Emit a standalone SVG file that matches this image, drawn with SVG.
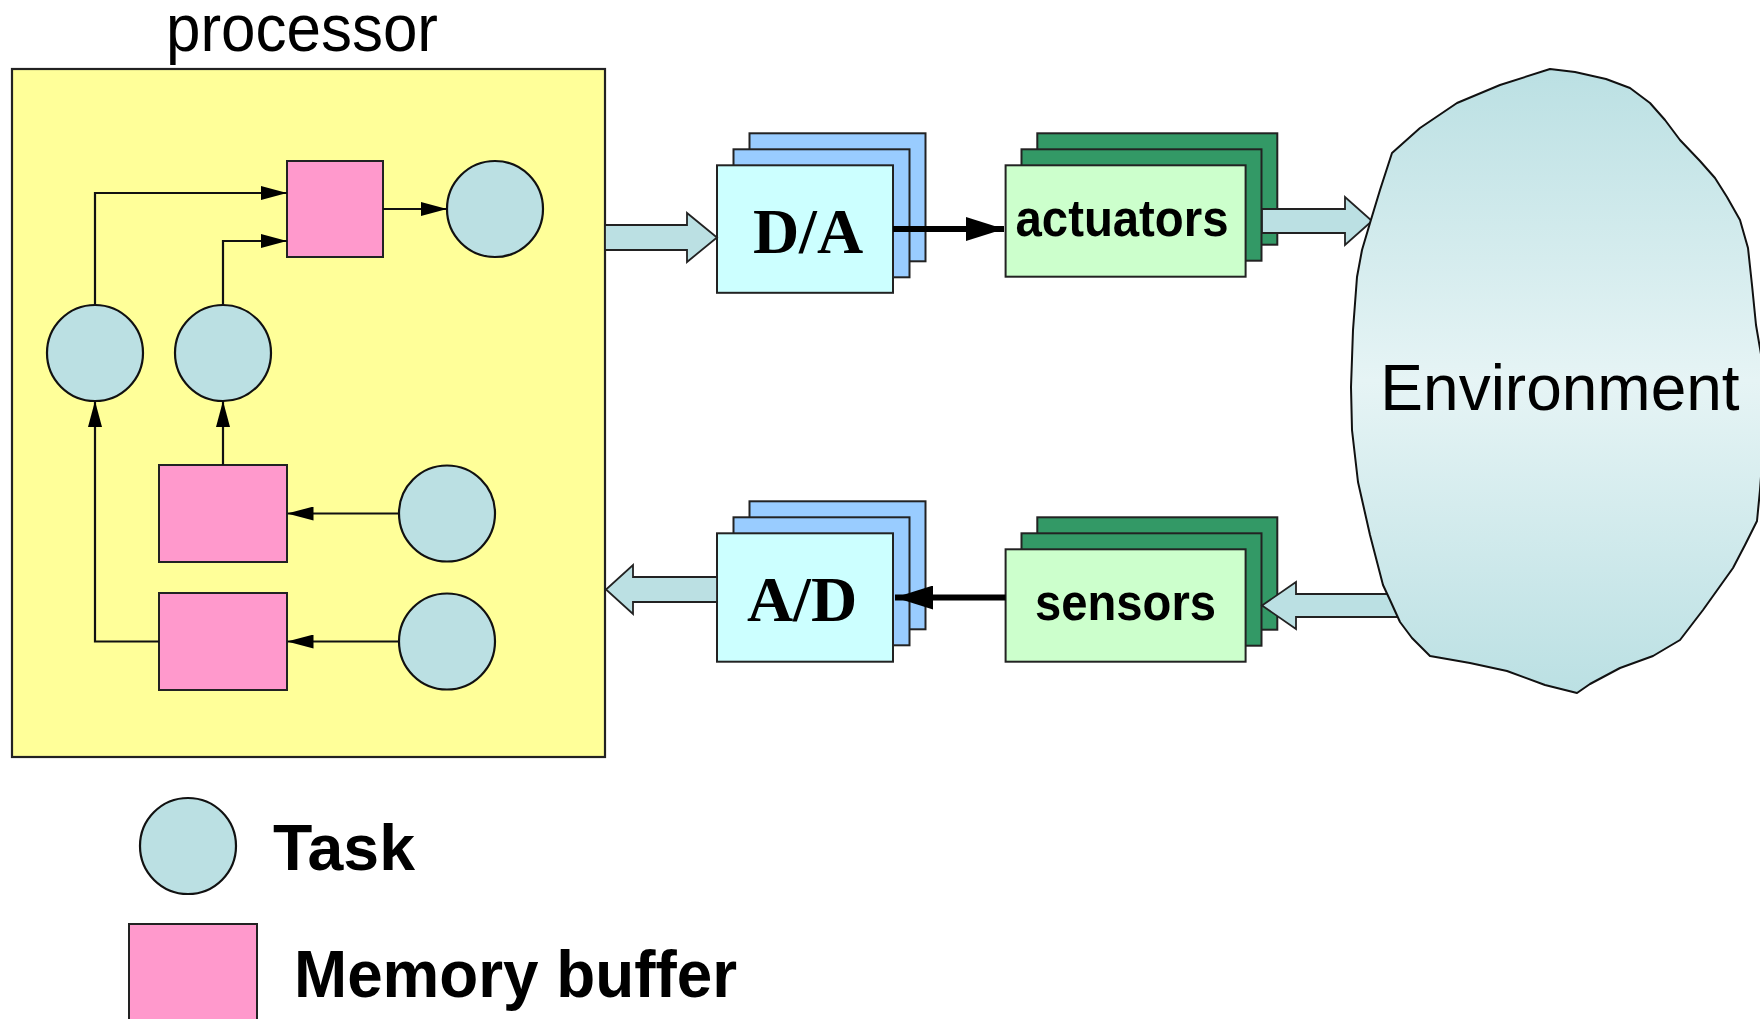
<svg xmlns="http://www.w3.org/2000/svg" width="1760" height="1019" viewBox="0 0 1760 1019">
  <style>
    .ln { fill: none; stroke: #111; stroke-width: 2.2; }
    .task { fill: #BBE0E3; stroke: #111; stroke-width: 2.2; }
    .buf { fill: #FF99CC; stroke: #222; stroke-width: 2; }
    .conv-front { fill: #CCFFFF; stroke: #222; stroke-width: 2; }
    .conv-back { fill: #99CCFF; stroke: #222; stroke-width: 2; }
    .dev-front { fill: #CCFFCC; stroke: #222; stroke-width: 2; }
    .dev-back { fill: #339966; stroke: #222; stroke-width: 2; }
    .flow { fill: #BBE0E3; stroke: #222; stroke-width: 1.8; stroke-linejoin: miter; }
    .sans { font-family: "Liberation Sans", Arial, sans-serif; fill: #000; }
    .serif { font-family: "Liberation Serif", "Times New Roman", serif; font-weight: bold; fill: #000; }
  </style>
  <defs>
    <marker id="head" markerUnits="userSpaceOnUse" viewBox="0 0 26 14" refX="26" refY="7" markerWidth="26" markerHeight="14" orient="auto">
      <path d="M0,0 L26,7 L0,14 Z" fill="#000"/>
    </marker>
    <marker id="bighead" markerUnits="userSpaceOnUse" viewBox="0 0 38 24" refX="38" refY="12" markerWidth="38" markerHeight="24" orient="auto">
      <path d="M0,0 L38,12 L0,24 Z" fill="#000"/>
    </marker>
    <linearGradient id="envFill" x1="0" y1="0" x2="0" y2="1">
      <stop offset="0" stop-color="#BBE0E3"/>
      <stop offset="0.5" stop-color="#E6F4F5"/>
      <stop offset="1" stop-color="#BBE0E3"/>
    </linearGradient>
  </defs>

  <rect width="1760" height="1019" fill="#fff"/>

  <!-- processor container -->
  <g id="processor">
    <rect x="12" y="69" width="593" height="688" fill="#FFFF99" stroke="#222" stroke-width="2.2"/>
    <text class="sans" x="302" y="51" font-size="66" text-anchor="middle" textLength="272" lengthAdjust="spacingAndGlyphs">processor</text>
  </g>

  <!-- tasks and buffers inside the processor -->
  <g id="buffer-top"><rect class="buf" x="287" y="161" width="96" height="96"/></g>
  <g id="task-out"><circle class="task" cx="495" cy="209" r="48"/></g>
  <g id="task-a"><circle class="task" cx="95" cy="353" r="48"/></g>
  <g id="task-b"><circle class="task" cx="223" cy="353" r="48"/></g>
  <g id="buffer-mid"><rect class="buf" x="159" y="465" width="128" height="97"/></g>
  <g id="buffer-low"><rect class="buf" x="159" y="593" width="128" height="97"/></g>
  <g id="task-in1"><circle class="task" cx="447" cy="513.5" r="48"/></g>
  <g id="task-in2"><circle class="task" cx="447" cy="641.5" r="48"/></g>

  <!-- D/A converter stack -->
  <g id="da">
    <rect class="conv-back" x="749.5" y="133.3" width="176" height="128"/>
    <rect class="conv-back" x="733.5" y="149.3" width="176" height="128"/>
    <rect class="conv-front" x="717" y="165.3" width="176" height="127.5"/>
    <text class="serif" x="808" y="253" font-size="64" text-anchor="middle">D/A</text>
  </g>

  <!-- A/D converter stack -->
  <g id="ad">
    <rect class="conv-back" x="749.5" y="501.3" width="176" height="128"/>
    <rect class="conv-back" x="733.5" y="517.3" width="176" height="128"/>
    <rect class="conv-front" x="717" y="533.3" width="176" height="128.4"/>
    <text class="serif" x="802" y="621" font-size="64" text-anchor="middle">A/D</text>
  </g>

  <!-- actuators stack -->
  <g id="actuators">
    <rect class="dev-back" x="1037.3" y="133.3" width="240" height="111.4"/>
    <rect class="dev-back" x="1021.5" y="149.3" width="240" height="111.4"/>
    <rect class="dev-front" x="1005.6" y="165.3" width="240" height="111.4"/>
    <text class="sans" x="1122" y="236" font-size="52" font-weight="bold" text-anchor="middle" textLength="213" lengthAdjust="spacingAndGlyphs">actuators</text>
  </g>

  <!-- sensors stack -->
  <g id="sensors">
    <rect class="dev-back" x="1037.3" y="517.3" width="240" height="112.4"/>
    <rect class="dev-back" x="1021.5" y="533.3" width="240" height="112.4"/>
    <rect class="dev-front" x="1005.6" y="549.3" width="240" height="112.4"/>
    <text class="sans" x="1125.5" y="620" font-size="52" font-weight="bold" text-anchor="middle" textLength="181" lengthAdjust="spacingAndGlyphs">sensors</text>
  </g>

  <!-- connectors -->
  <g id="connectors">
    <path class="ln" d="M95,305 V193 H287" marker-end="url(#head)"/>
    <path class="ln" d="M223,305 V241 H287" marker-end="url(#head)"/>
    <path class="ln" d="M383,209 H447" marker-end="url(#head)"/>
    <path class="ln" d="M223,465 V401" marker-end="url(#head)"/>
    <path class="ln" d="M399,513.5 H287.5" marker-end="url(#head)"/>
    <path class="ln" d="M399,641.5 H287.5" marker-end="url(#head)"/>
    <path class="ln" d="M159,641.5 H95 V401" marker-end="url(#head)"/>

    <line x1="893" y1="229" x2="1004" y2="229" stroke="#000" stroke-width="6" marker-end="url(#bighead)"/>
    <line x1="1005.6" y1="597.5" x2="895" y2="597.5" stroke="#000" stroke-width="6" marker-end="url(#bighead)"/>

    <polygon class="flow" points="605,225 687,225 687,213 717,237.5 687,262 687,250 605,250"/>
    <polygon class="flow" points="1262,209 1345,209 1345,197 1372,221 1345,245 1345,233 1262,233"/>
    <polygon class="flow" points="717,577 633,577 633,565 606,589.5 633,614 633,602 717,602"/>
    <polygon class="flow" points="1420,594 1296,594 1296,582 1262,605.5 1296,629 1296,617 1420,617"/>
  </g>

  <!-- environment cloud -->
  <g id="environment">
    <path fill="url(#envFill)" stroke="#111" stroke-width="2" stroke-linejoin="round"
      d="M1550,69 L1575,72 L1606,79 L1630,88 L1650,103 L1665,120 L1680,140 L1700,161 L1715,178 L1727,197 L1740,220 L1748,248 L1752,285 L1756,325 L1762,360 L1764,400 L1763,450 L1760,490 L1757,521 L1745,545 L1733,568 L1703,610 L1680,640 L1653,656 L1620,668 L1590,684 L1577,693 L1545,685 L1507,671 L1470,663 L1430,656 L1412,638 L1400,622 L1390,600 L1383,585 L1370,535 L1358,482 L1352,430 L1351,387 L1353,330 L1357,277 L1362,250 L1370,223 L1380,190 L1392,153 L1420,128 L1457,103 L1500,85 Z"/>
    <text class="sans" x="1560" y="410" font-size="64" text-anchor="middle">Environment</text>
  </g>

  <!-- legend -->
  <g id="legend-task">
    <circle class="task" cx="188" cy="846" r="48"/>
    <text class="sans" x="273" y="870" font-size="64" font-weight="bold" textLength="142" lengthAdjust="spacingAndGlyphs">Task</text>
  </g>
  <g id="legend-buffer">
    <rect class="buf" x="129" y="924" width="128" height="110"/>
    <text class="sans" x="294" y="997" font-size="66" font-weight="bold" textLength="443" lengthAdjust="spacingAndGlyphs">Memory buffer</text>
  </g>
</svg>
